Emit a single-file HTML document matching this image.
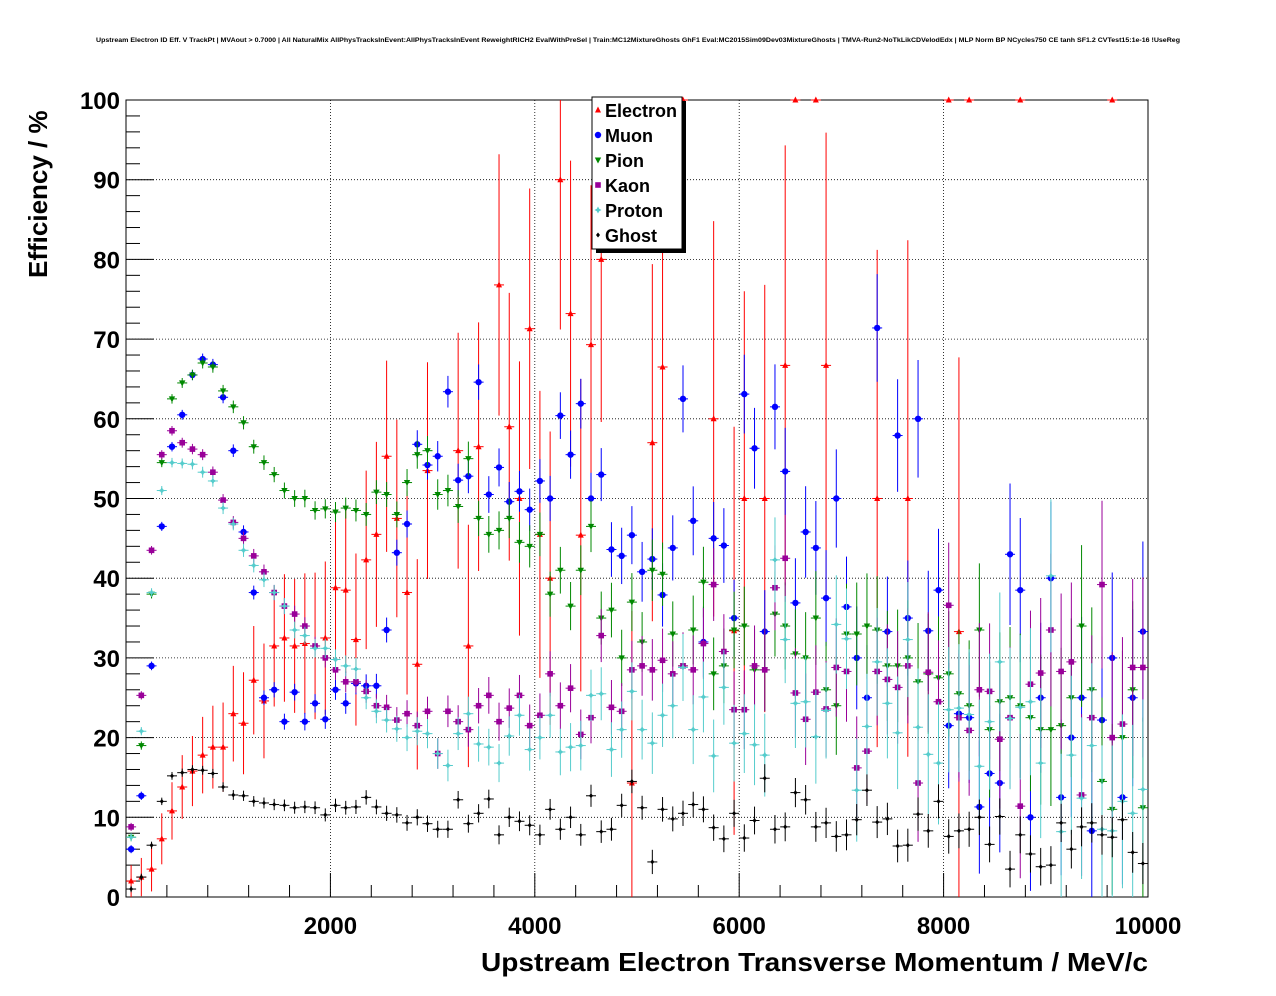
<!DOCTYPE html>
<html><head><meta charset="utf-8"><style>
html,body{margin:0;padding:0;background:#fff;}
svg{display:block;font-family:"Liberation Sans",sans-serif;}
</style></head><body>
<svg id="chart" width="1276" height="996" viewBox="0 0 1276 996" xmlns="http://www.w3.org/2000/svg">
<rect width="1276" height="996" fill="#fff"/>
<text x="96" y="42" textLength="1084" lengthAdjust="spacingAndGlyphs" font-size="6.6" font-weight="bold">Upstream Electron ID Eff. V TrackPt | MVAout &gt; 0.7000 | All NaturalMix AllPhysTracksInEvent:AllPhysTracksInEvent ReweightRICH2 EvalWithPreSel | Train:MC12MixtureGhosts GhF1 Eval:MC2015Sim09Dev03MixtureGhosts | TMVA-Run2-NoTkLikCDVelodEdx | MLP Norm BP NCycles750 CE tanh SF1.2 CVTest15:1e-16 !UseReg</text>
<g id="grid"></g>
<g id="axes"></g>
<g id="series"></g>
<text x="481" y="971" textLength="667" lengthAdjust="spacingAndGlyphs" font-size="26" font-weight="bold">Upstream Electron Transverse Momentum / MeV/c</text>
<text transform="translate(47,278) rotate(-90)" font-size="26" font-weight="bold">Efficiency / %</text>
<g id="legend"></g>
</svg>
<script>
const xTicks=[2000,4000,6000,8000,10000];
const yTicks=[0,10,20,30,40,50,60,70,80,90,100];
const binCenters=[];for(let i=0;i<100;i++)binCenters.push(50+100*i);
const electron=[2,2.5,3.5,7.3,10.8,13.8,15.8,17.8,18.8,18.8,23,21.8,27.2,24.6,31.5,32.5,31.5,31.8,31.5,32.5,38.8,38.5,32.3,42.3,45.5,55.3,47.5,38.2,29.2,53.5,null,null,56,31.5,56.5,null,76.8,59,50,71.3,45.5,40,90,73.2,45.4,69.3,80,null,null,14.3,null,57,66.5,null,100,null,null,60,null,33.4,50,null,50,null,66.7,100,null,100,66.7,null,null,null,null,50,null,null,50,null,null,null,100,33.3,100,null,null,null,null,100,null,null,null,null,null,null,null,null,100,null,null,null];
const muon=[6,12.7,29,46.5,56.5,60.5,65.5,67.5,66.8,62.7,56,45.8,38.2,25,26,22,25.7,22,24.3,22.3,26,24.3,26.8,26.5,26.5,33.5,43.2,46.8,56.8,54.2,55.3,63.4,52.3,52.8,64.6,50.5,53.9,49.6,50.9,48.6,52.2,50,60.4,55.5,61.9,50,53,43.6,42.8,45.4,40.8,42.4,37.9,43.8,62.5,47.2,32,45,44.1,35,63.1,56.3,33.3,61.5,53.4,36.9,45.8,43.8,37.5,50,36.4,30,25,71.4,33.3,57.9,35,60,33.4,38.5,21.5,23,22.5,11.3,15.5,14.3,43,38.5,10,25,40,12.5,20,25,8.3,22.2,30,12.5,25,33.3];
const pion=[7.5,19,38,54.5,62.5,64.5,65.5,67,66.5,63.5,61.5,59.5,56.5,54.5,53,51,50,50,48.5,48.7,48.3,48.8,48.5,48,50.8,50.5,48,52,55.5,56,50.5,51,49,55,47.5,45.5,46,47.5,44.5,44,45.5,38,41,36.5,41,46.5,35,36,30,37,32,41,40.5,33,29,33.5,39.5,28,29,33.5,34,28.5,28.5,35.5,34,30.5,30,35,26,24,33,33,34,33.5,29,29,30,27,28,27.5,28,25.5,24,33.5,21,24.5,25,24,22.5,21,21,21.5,25,34,26,14.5,11,20,26,11.2];
const kaon=[8.8,25.3,43.5,55.5,58.5,57,56.2,55.5,53.3,49.8,47,45,42.8,40.8,38.2,36.5,35.5,34,31.5,30,28.5,27,27,25.8,24,23.8,22.2,23,21.5,23.3,18,23.3,22,21,24,25.3,22,23.7,25.3,21.5,22.8,28,24,26.2,20.4,22.5,32.8,23.8,23.3,28.5,29,28.5,29.7,28,29,28.5,31.8,39.2,30.8,23.5,23.5,29,28.5,38.8,42.5,25.6,22.3,25.7,23.6,28.8,28.3,16.2,18.3,28.3,27.3,26.3,29,14.3,28.2,24.5,36.6,22.5,20.9,26,25.8,19.8,22.5,11.4,26.7,28.1,33.5,28.3,29.5,12.8,22.5,39.2,20,21.7,28.8,28.8];
const proton=[7.5,20.8,38.2,51,54.5,54.4,54.3,53.3,52.2,48.8,46.8,43.5,41.6,39.8,38.2,36.5,33.5,32.8,31.2,31.2,29.8,29,28.6,25,23.3,22.2,21.1,20,20.8,20.5,18,16.5,20.5,23,19.2,18.8,16.8,20.2,22.8,18.5,20,22.8,18.2,18.8,19,25.3,25.5,18.5,21,25.8,21,19.3,22.8,24,28.8,21,25.1,17.7,26.3,19.3,20.5,19.1,17.8,42.3,32.3,24.3,24.5,20.1,23.4,34.2,32.4,13.4,21.4,29.5,24.3,20.6,32.3,21.3,17.9,16.8,23.5,23.7,22.9,16.4,22,29.5,22.4,23.8,24.5,16.8,40.3,8.2,17.8,12.4,19,8.5,8.3,12,10.5,13.5];
const ghost=[1,2.5,6.5,12,15.2,15.6,16,15.9,15.5,13.8,12.8,12.7,12,11.8,11.6,11.5,11.2,11.3,11.2,10.3,11.5,11.2,11.3,12.5,11.3,10.5,10.3,9.3,10,9.2,8.5,8.5,12.2,9.2,10.5,12.3,7.8,10,9.5,9,7.8,11,8.5,10,7.8,12.7,8.2,8.5,11.5,14.5,11.2,4.4,11,9.8,10.5,11.6,11,8.7,7.3,10.5,7.4,9.6,14.9,8.5,8.8,13.1,12.2,8.8,9.3,7.6,7.8,9.7,13.4,9.4,9.8,6.4,6.5,10.4,8.3,12,7.6,8.3,8.5,10,6.6,10.1,3.5,7.8,5.4,3.8,4,9.3,6,8.8,9.3,7.8,7.5,9.7,5.6,4.2];
const seriesNames=["Electron","Muon","Pion","Kaon","Proton","Ghost"];

const NS="http://www.w3.org/2000/svg";
const X0=126,X1=1148,Y0=897,Y1=100;
function xs(v){return X0+(v/10000)*(X1-X0);}
function ys(v){return Y0-(v/100)*(Y0-Y1);}
function mk(tag,attrs,parent){const e=document.createElementNS(NS,tag);for(const k in attrs)e.setAttribute(k,attrs[k]);parent.appendChild(e);return e;}
const grid=document.getElementById('grid'),axes=document.getElementById('axes'),ser=document.getElementById('series'),leg=document.getElementById('legend');
xTicks.forEach(t=>{if(t<10000){const l=mk('line',{x1:xs(t),x2:xs(t),y1:Y1,y2:Y0,stroke:'#000','stroke-width':0.8,'stroke-dasharray':'1,2'},grid);}});
yTicks.forEach(t=>{if(t>0&&t<100){const l=mk('line',{x1:X0,x2:X1,y1:ys(t),y2:ys(t),stroke:'#000','stroke-width':0.8,'stroke-dasharray':'1,2'},grid);}});
const fr=mk('rect',{x:X0,y:Y1,width:X1-X0,height:Y0-Y1,fill:'none',stroke:'#000','stroke-width':1},axes);

for(let v=0;v<=100;v+=2){const big=v%10===0;const l=mk('line',{x1:X0,x2:X0+(big?28:14),y1:ys(v),y2:ys(v),stroke:'#000','stroke-width':1},axes);}
for(let v=0;v<=10000;v+=400){const big=v%2000===0;const l=mk('line',{x1:xs(v),x2:xs(v),y1:Y0,y2:Y0-(big?24:12),stroke:'#000','stroke-width':1},axes);}
yTicks.forEach(t=>{const tx=mk('text',{x:X0-6,y:ys(t)+9,'text-anchor':'end','font-size':24,'font-weight':'bold'},axes);tx.textContent=t;});
xTicks.forEach(t=>{const tx=mk('text',{x:xs(t),y:934,'text-anchor':'middle','font-size':24,'font-weight':'bold'},axes);tx.textContent=t;});

const colors={Electron:'#ff0000',Muon:'#0000ff',Pion:'#008800',Kaon:'#990099',Proton:'#55cccc',Ghost:'#000000'};
function marker(name,cx,cy,g,s){s=s||1;const c=colors[name];let e;
 if(name==='Electron')e=mk('polygon',{points:`${cx},${cy-3.5*s} ${cx-3*s},${cy+2.5*s} ${cx+3*s},${cy+2.5*s}`,fill:c},g);
 else if(name==='Muon')e=mk('circle',{cx:cx,cy:cy,r:3.2*s,fill:c},g);
 else if(name==='Pion')e=mk('polygon',{points:`${cx},${cy+3.5*s} ${cx-3.2*s},${cy-2.5*s} ${cx+3.2*s},${cy-2.5*s}`,fill:c},g);
 else if(name==='Kaon')e=mk('rect',{x:cx-2.8*s,y:cy-2.8*s,width:5.6*s,height:5.6*s,fill:c},g);
 else if(name==='Proton')e=mk('polygon',{points:`${cx},${cy-3.5*s} ${cx+1.2*s},${cy-1.2*s} ${cx+3.5*s},${cy} ${cx+1.2*s},${cy+1.2*s} ${cx},${cy+3.5*s} ${cx-1.2*s},${cy+1.2*s} ${cx-3.5*s},${cy} ${cx-1.2*s},${cy-1.2*s}`,fill:c},g);
 else e=mk('polygon',{points:`${cx},${cy-2.5*s} ${cx+2*s},${cy} ${cx},${cy+2.5*s} ${cx-2*s},${cy}`,fill:c},g);
 return e;}
const allData={Electron:electron,Muon:muon,Pion:pion,Kaon:kaon,Proton:proton,Ghost:ghost};
seriesNames.forEach(name=>{
 const g=mk('g',{},ser);
 const vals=allData[name];
 vals.forEach((v,i)=>{if(v===null||v===undefined)return;
  const cx=xs(binCenters[i]),cy=ys(v);
  const frac=i/100;
  let err=name==='Electron'?(v>=100?0:2+frac*40):(name==='Ghost'?0.4+frac*2.2:0.5+frac*frac*9+frac*2);
  const top=ys(Math.min(100,v+err)),bot=ys(Math.max(0,v-err));
  const eb=mk('line',{x1:cx,x2:cx,y1:top,y2:bot,stroke:colors[name],'stroke-width':1},g);
  
  const hb=mk('line',{x1:cx-5,x2:cx+5,y1:cy,y2:cy,stroke:colors[name],'stroke-width':1},g);
  
  const m=marker(name,cx,cy,g);
  
  
 });
});
const shadow=mk('rect',{x:596,y:101,width:90,height:152,fill:'#000'},leg);

const box=mk('rect',{x:592,y:97,width:90,height:152,fill:'#fff',stroke:'#000','stroke-width':1},leg);

seriesNames.forEach((name,i)=>{
 const y=110+25*i;
 const g=mk('g',{},leg);
 marker(name,598,y,g);
 const t=mk('text',{x:605,y:y+7,'font-size':18,'font-weight':'bold'},g);t.textContent=name;
 
});
</script>
</body></html>
